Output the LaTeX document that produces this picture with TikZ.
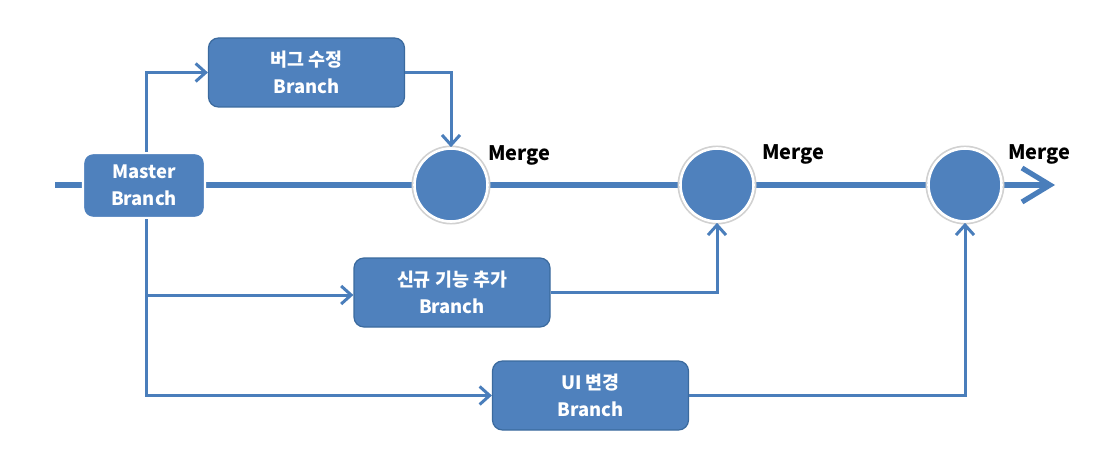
\documentclass[tikz,border=0pt]{standalone}
\usepackage{fontspec}
\setmainfont{Noto Sans CJK KR}
\usetikzlibrary{arrows.meta}
\definecolor{bfill}{HTML}{4F81BD}
\definecolor{bline}{HTML}{4A7EBB}
\definecolor{bedge}{HTML}{3B6A9E}
\tikzset{
  box/.style={rounded corners=5pt, fill=bfill, draw=bedge, line width=0.6pt,
    minimum width=98pt, minimum height=34.5pt, align=center, text=white,
    font=\fontsize{9.2}{13.5}\selectfont\bfseries, inner sep=0pt},
  mbox/.style={box, draw=white, line width=1.2pt, minimum width=61pt, minimum height=32.5pt},
  merge/.style={circle, fill=bfill, draw=white, line width=1.3pt, minimum size=36.5pt, inner sep=0pt},
  halo/.style={circle, draw=black!18, line width=1pt, minimum size=38.5pt, inner sep=0pt},
  lbl/.style={font=\fontsize{10}{12}\selectfont\bfseries, text=black, inner sep=0pt},
  conn/.style={draw=bline, line width=1.5pt, -{Straight Barb[length=5pt,width=9pt,line width=1.5pt]}},
  plain/.style={draw=bline, line width=1.5pt},
  mainline/.style={draw=bline, line width=2.6pt}
}
\begin{document}
\begin{tikzpicture}[x=0.5pt,y=-0.5pt]
\useasboundingbox (0,0) rectangle (1109,465);
% coordinates
\coordinate (start) at (55,185);
\coordinate (endp) at (1055,185);
% main line
\draw[mainline, -{Straight Barb[length=14pt,width=17pt,line width=2.6pt]}] (start) -- (endp);
% halos
\node[halo] at (451,185) {};
\node[halo] at (717,185) {};
\node[halo] at (965,185) {};
% merge circles
\node[merge] (m1) at (451,185) {};
\node[merge] (m2) at (717,185) {};
\node[merge] (m3) at (965,185) {};
% boxes
\node[mbox] (master) at (144,185.5) {Master\\Branch};
\node[box] (bug) at (306.5,72.5) {버그 수정\\Branch};
\node[box] (feat) at (452,292.5) {신규 기능 추가\\Branch};
\node[box] (ui) at (590.5,395.5) {UI 변경\\Branch};
% labels
\node[lbl, anchor=west] (l1) at (488,155) {Merge};
\node[lbl, anchor=west] (l2) at (762,154) {Merge};
\node[lbl, anchor=west] (l3) at (1008,154) {Merge};
% connectors
\coordinate (mb) at (146,295);
\draw[conn] (master.north -| 146,0) |- (bug.west);
\draw[conn] (bug.east) -| (m1.north);
\draw[conn] (master.south -| 146,0) |- (ui.west);
\draw[conn] (mb) -- (mb -| feat.west);
\draw[conn] (feat.east) -| (m2.south);
\draw[conn] (ui.east) -| (m3.south);
\end{tikzpicture}
\end{document}
